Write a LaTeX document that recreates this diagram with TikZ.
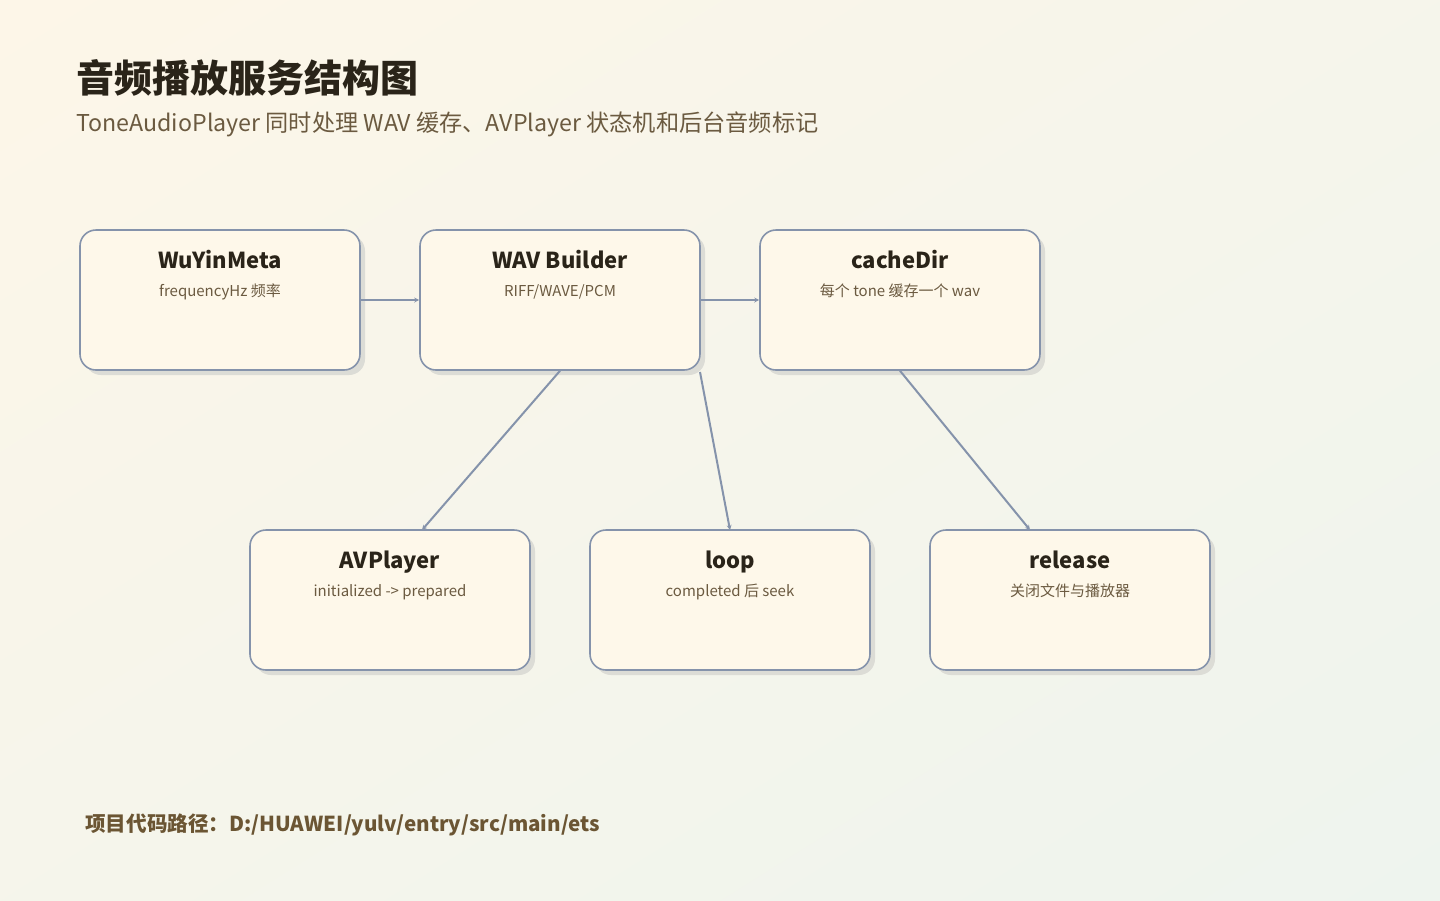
\documentclass[tikz,border=0pt]{standalone}
\usepackage{fontspec}
\setmainfont{Noto Sans CJK SC}
\usetikzlibrary{arrows.meta,shadows,shadings}
\definecolor{bgA}{HTML}{FDF6E8}
\definecolor{bgB}{HTML}{EEF4EE}
\definecolor{edgec}{HTML}{8593AB}
\definecolor{fillc}{HTML}{FEF8EA}
\definecolor{titlec}{HTML}{2A2419}
\definecolor{subc}{HTML}{6B5A40}
\definecolor{footc}{HTML}{6B5533}
\definecolor{shadc}{HTML}{DCDCD6}
\tikzset{
  x=1pt,y=-1pt,
  box/.style={draw=edgec,line width=1.6pt,fill=fillc,rounded corners=16pt,
    minimum width=280pt,minimum height=140pt,inner sep=0pt,
    drop shadow={shadow xshift=5pt,shadow yshift=-5pt,fill=shadc,opacity=1}},
  boxtitle/.style={font=\fontsize{22}{26}\selectfont\bfseries,text=titlec,anchor=base},
  boxsub/.style={font=\fontsize{15}{18}\selectfont,text=subc,anchor=base},
  conn/.style={draw=edgec,line width=2pt,-{Stealth[length=5pt,width=5pt]}}
}
\begin{document}
\begin{tikzpicture}
\useasboundingbox (0,0) rectangle (1440,900);
\shade[upper left=bgA,lower right=bgB,upper right=bgA!50!bgB,lower left=bgA!50!bgB] (0,0) rectangle (1440,900);
\node[anchor=base west,inner sep=0pt,font=\fontsize{38}{44}\selectfont\bfseries,text=titlec] (title) at (76,92) {音频播放服务结构图};
\node[anchor=base west,inner sep=0pt,font=\fontsize{23.2}{27}\selectfont,text=subc] (subtitle) at (76,131) {ToneAudioPlayer 同时处理 WAV 缓存、AVPlayer 状态机和后台音频标记};
% boxes
\node[box] (wuyin) at (220,300) {};
\node[box] (wav) at (560,300) {};
\node[box] (cache) at (900,300) {};
\node[box] (avp) at (390,600) {};
\node[box] (loop) at (730,600) {};
\node[box] (rel) at (1070,600) {};
% texts
\node[boxtitle] (t1) at (220,268) {WuYinMeta};
\node[boxsub] (s1) at (220,296) {frequencyHz 频率};
\node[boxtitle] (t2) at (560,268) {WAV Builder};
\node[boxsub] (s2) at (560,296) {RIFF/WAVE/PCM};
\node[boxtitle] (t3) at (900,268) {cacheDir};
\node[boxsub] (s3) at (900,296) {每个 tone 缓存一个 wav};
\node[boxtitle] (t4) at (390,568) {AVPlayer};
\node[boxsub] (s4) at (390,596) {initialized -> prepared};
\node[boxtitle] (t5) at (730,568) {loop};
\node[boxsub] (s5) at (730,596) {completed 后 seek};
\node[boxtitle] (t6) at (1070,568) {release};
\node[boxsub] (s6) at (1070,596) {关闭文件与播放器};
% connectors
\coordinate (wavb) at (700,372);
\coordinate (loopt) at (730,530);
\coordinate (avpt) at (422,530);
\coordinate (relt) at (1030,530);
\draw[conn] (wuyin.east) -- (wav.west);
\draw[conn] (wav.east) -- (cache.west);
\draw[conn] (wav.south) -- (avpt);
\draw[conn] (wavb) -- (loopt);
\draw[conn] (cache.south) -- (relt);
\node[anchor=base west,inner sep=0pt,font=\fontsize{20.6}{24}\selectfont\bfseries,text=footc] (foot) at (85,831) {项目代码路径：D:/HUAWEI/yulv/entry/src/main/ets};
\end{tikzpicture}
\end{document}
